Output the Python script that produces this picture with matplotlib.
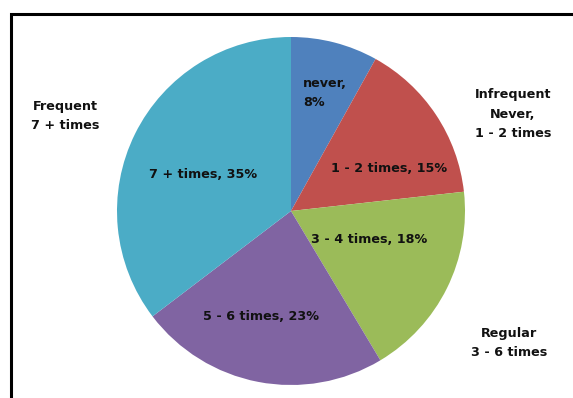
import matplotlib
matplotlib.use("Agg")
import matplotlib.pyplot as plt
from matplotlib.patches import Rectangle

categories = ["never", "1 - 2 times", "3 - 4 times", "5 - 6 times", "7 + times"]
values = [8, 15, 18, 23, 35]
colors = ["#4F81BD", "#C0504D", "#9BBB59", "#8064A2", "#4BACC6"]
slice_labels = ["never,\n8%", "1 - 2 times, 15%", "3 - 4 times, 18%",
                "5 - 6 times, 23%", "7 + times, 35%"]
group_labels = ["Frequent\n7 + times", "Infrequent\nNever,\n1 - 2 times", "Regular\n3 - 6 times"]

W, H = 573, 398
fig = plt.figure(figsize=(W / 100, H / 100), dpi=100)
fig.patch.set_facecolor("white")

# border box (extends beyond right/bottom edges)
fig.patches.append(Rectangle((11 / W, -0.05), 1.1, (H - 14) / H + 0.05,
                             transform=fig.transFigure, fill=False,
                             edgecolor="black", linewidth=2.2))

cx, cy, r = 291, 211, 174
ax = fig.add_axes([(cx - r) / W, (H - cy - r) / H, 2 * r / W, 2 * r / H])
wedges, _ = ax.pie(values, colors=colors, startangle=90, counterclock=False,
                   radius=1.0, wedgeprops=dict(linewidth=0))
ax.set_xlim(-1, 1)
ax.set_ylim(-1, 1)
ax.set_aspect("auto")
ax.axis("off")

font = dict(fontsize=9.2, fontweight="bold", color="#111111")
label_pos = [(303, 93, "left"), (389, 168, "center"), (369, 240, "center"),
             (261, 317, "center"), (203, 175, "center")]
for lab, (x, y, ha) in zip(slice_labels, label_pos):
    fig.text(x / W, 1 - y / H, lab, ha=ha, va="center", linespacing=1.65, **font)

group_pos = [(65, 116), (513, 114), (509, 343)]
for lab, (x, y) in zip(group_labels, group_pos):
    fig.text(x / W, 1 - y / H, lab, ha="center", va="center", linespacing=1.65, **font)

fig.savefig("out.png", dpi=100)
